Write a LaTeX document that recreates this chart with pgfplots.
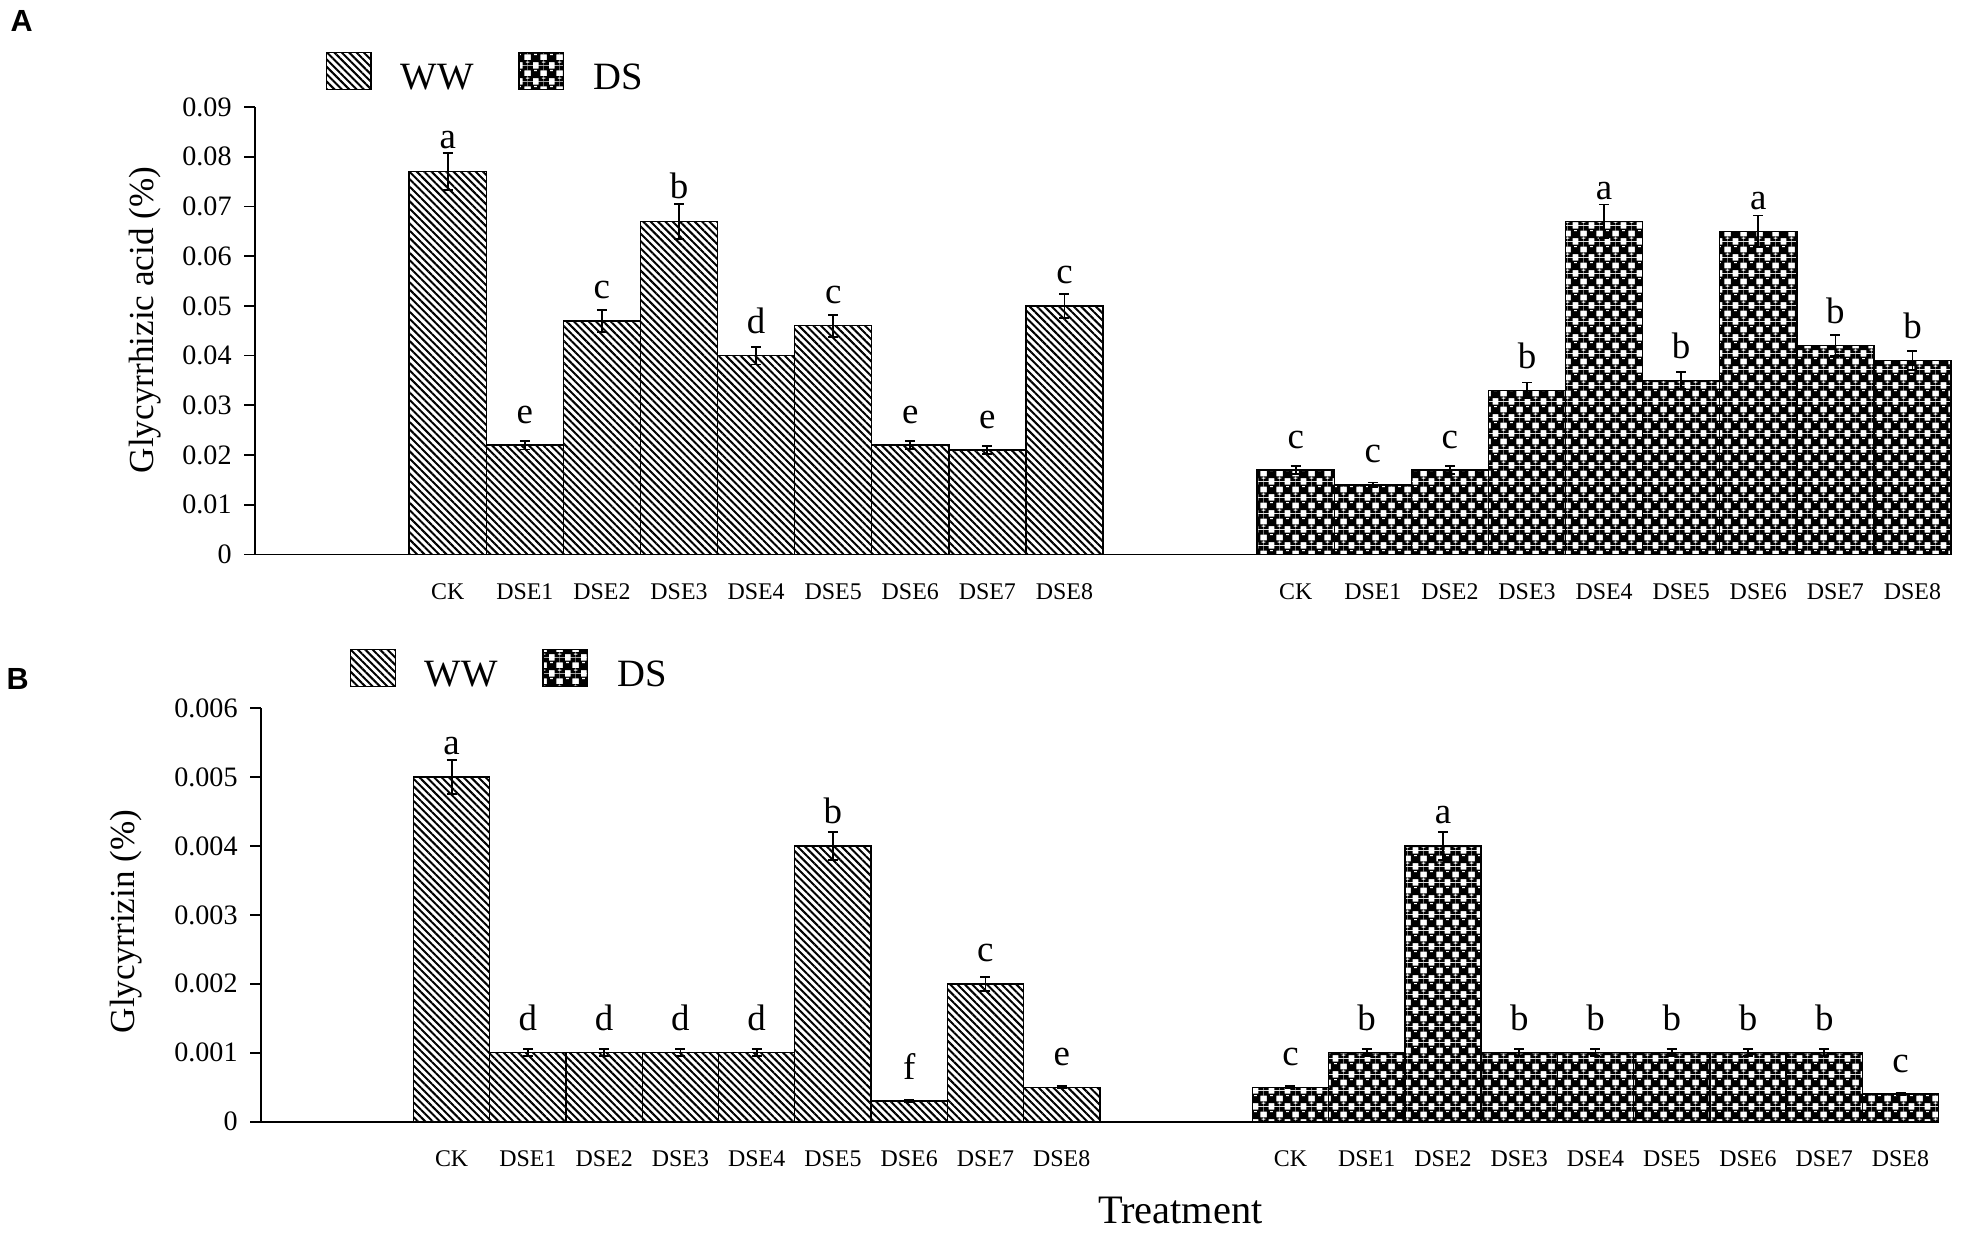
\documentclass[border=0pt]{standalone}
\usepackage{fontspec}
\setmainfont{Liberation Serif}
\newfontfamily\panelfont{Liberation Sans}
\usepackage{pgfplots}
\pgfplotsset{compat=1.18}
\usepackage{pgfplotstable}
\usetikzlibrary{patterns,patterns.meta}

\pgfdeclarepatterninherentlycolored{dscheck}{\pgfpointorigin}{\pgfqpoint{1.6mm}{1.6mm}}{\pgfqpoint{1.6mm}{1.6mm}}{%
  \pgfsetfillcolor{white}%
  \pgfpathrectangle{\pgfpointorigin}{\pgfqpoint{1.6mm}{1.6mm}}%
  \pgfusepath{fill}%
  \pgfsetfillcolor{black}%
  \pgfpathrectangle{\pgfqpoint{0.3mm}{0.3mm}}{\pgfqpoint{1.0mm}{1.0mm}}%
  \pgfpathrectangle{\pgfqpoint{0mm}{0mm}}{\pgfqpoint{0.5mm}{0.5mm}}%
  \pgfpathrectangle{\pgfqpoint{1.1mm}{0mm}}{\pgfqpoint{0.5mm}{0.5mm}}%
  \pgfpathrectangle{\pgfqpoint{0mm}{1.1mm}}{\pgfqpoint{0.5mm}{0.5mm}}%
  \pgfpathrectangle{\pgfqpoint{1.1mm}{1.1mm}}{\pgfqpoint{0.5mm}{0.5mm}}%
  \pgfusepath{fill}%
  \pgfsetfillcolor{white}%
  \pgfpathrectangle{\pgfqpoint{0.64mm}{1.04mm}}{\pgfqpoint{0.30mm}{0.12mm}}%
  \pgfpathrectangle{\pgfqpoint{-0.16mm}{0.24mm}}{\pgfqpoint{0.30mm}{0.12mm}}%
  \pgfpathrectangle{\pgfqpoint{1.44mm}{0.24mm}}{\pgfqpoint{0.30mm}{0.12mm}}%
  \pgfusepath{fill}%
}

\pgfplotstableread{
x y e l
0 0.077 0.0037 a
1 0.022 0.0009 e
2 0.047 0.0022 c
3 0.067 0.0035 b
4 0.040 0.0018 d
5 0.046 0.0022 c
6 0.022 0.0008 e
7 0.021 0.0008 e
8 0.050 0.0024 c
}\AWW
\pgfplotstableread{
x y e l
11 0.017 0.0008 c
12 0.014 0.0005 c
13 0.017 0.0008 c
14 0.033 0.0016 b
15 0.067 0.0034 a
16 0.035 0.0017 b
17 0.065 0.0032 a
18 0.042 0.0021 b
19 0.039 0.0019 b
}\ADS
\pgfplotstableread{
x y e l
0 0.0050 0.00025 a
1 0.0010 0.00005 d
2 0.0010 0.00005 d
3 0.0010 0.00005 d
4 0.0010 0.00005 d
5 0.0040 0.00020 b
6 0.0003 0.00001 f
7 0.0020 0.00010 c
8 0.0005 0.00002 e
}\BWW
\pgfplotstableread{
x y e l
11 0.0005 0.00002 c
12 0.0010 0.00005 b
13 0.0040 0.00020 a
14 0.0010 0.00005 b
15 0.0010 0.00005 b
16 0.0010 0.00005 b
17 0.0010 0.00005 b
18 0.0010 0.00005 b
19 0.0004 0.00002 c
}\BDS

\pgfplotsset{
  chartstyle/.style={
    scale only axis, xmin=-2.5, xmax=19.5, ymin=0,
    axis x line*=bottom, axis y line*=left,
    axis line style={line width=0.55pt, black},
    tick align=outside, major tick length=1.1mm,
    tick style={line width=0.5pt, black},
    xtick={0,1,2,3,4,5,6,7,8,11,12,13,14,15,16,17,18,19},
    xticklabels={CK,DSE1,DSE2,DSE3,DSE4,DSE5,DSE6,DSE7,DSE8,CK,DSE1,DSE2,DSE3,DSE4,DSE5,DSE6,DSE7,DSE8},
    xtick style={draw=none},
    extra x ticks={9.6}, extra x tick labels={},
    extra x tick style={major tick length=2.2mm, tick align=inside, tick style={draw=black, line width=0.45pt}},
    scaled y ticks=false,
    /pgf/number format/assume math mode=true,
    yticklabel style={font=\fontsize{8}{9}\selectfont},
    xticklabel style={font=\fontsize{6.8}{8}\selectfont, inner sep=0pt, anchor=north, yshift=-1.7mm},
    clip=false,
    legend columns=2,
    legend style={draw=none, fill=none, inner sep=0pt, outer sep=0pt,
      font=\fontsize{11}{13}\selectfont, column sep=0pt,
      cells={anchor=base west}, nodes={inner sep=0pt, text depth=0pt, anchor=base west}},
  },
  errsty/.style={error bars/.cd, y dir=both, y explicit,
    error bar style={line width=0.5pt, black},
    error mark options={rotate=90, mark size=0.5mm, line width=0.5pt, black}},
  wwbar/.style={ybar, bar width=1, bar shift=0pt, draw=black, line width=0.4pt,
    pattern={Lines[angle=-45,distance=0.52mm,line width=0.2mm]},
    legend image code/.code={\draw[draw=black, line width=0.4pt, pattern={Lines[angle=-45,distance=0.52mm,line width=0.2mm]}] (0mm,0mm) rectangle (4.45mm,3.7mm); \path (7.35mm,0mm);},
    errsty},
  dsbar/.style={ybar, bar width=1, bar shift=0pt, draw=black, line width=0.4pt,
    pattern=dscheck,
    legend image code/.code={\path (-4.45mm,0mm); \draw[draw=black, line width=0.4pt, pattern=dscheck] (0mm,0mm) rectangle (4.45mm,3.7mm); \path (7.35mm,0mm);},
    errsty},
  lettersty/.style={forget plot, draw=none, mark=none, nodes near coords,
    point meta=explicit symbolic,
    nodes near coords style={anchor=south, inner sep=0pt, font=\fontsize{10.5}{12}\selectfont, text=black}},
}

\begin{document}
\begin{tikzpicture}
\useasboundingbox (0,0) rectangle (196.1mm,123.3mm);
\node[anchor=base west, inner sep=0pt, font=\panelfont\bfseries\fontsize{8.7}{10}\selectfont] at (1.0mm,120.1mm) {A};
\node[anchor=base west, inner sep=0pt, font=\panelfont\bfseries\fontsize{8.7}{10}\selectfont] at (0.6mm,54.3mm) {B};

\begin{axis}[chartstyle,
  at={(25.5mm,67.85mm)}, anchor=south west,
  width=169.6mm, height=44.75mm, ymax=0.09,
  ytick={0,0.01,0.02,0.03,0.04,0.05,0.06,0.07,0.08,0.09},
  yticklabels={0,0.01,0.02,0.03,0.04,0.05,0.06,0.07,0.08,0.09},
  ylabel={Glycyrrhizic acid (\%)},
  ylabel style={at={(axis description cs:-0.0550,0.524)}, anchor=south, inner sep=0pt, font=\fontsize{10}{12}\selectfont},
  legend style={at={(axis description cs:0.04186,1.038)}, anchor=south west},
]
\addplot[wwbar] table[x=x, y=y, y error=e] {\AWW};
\addlegendentry{WW}
\addplot[dsbar] table[x=x, y=y, y error=e] {\ADS};
\addlegendentry{DS}
\addplot[lettersty] table[x=x, y expr={max(\thisrow{y}+\thisrow{e}+0.0008,\thisrow{y}+0.0042)}, meta=l] {\AWW};
\addplot[lettersty] table[x=x, y expr={max(\thisrow{y}+\thisrow{e}+0.0008,\thisrow{y}+0.0042)}, meta=l] {\ADS};
\end{axis}

\begin{axis}[chartstyle,
  at={(26.1mm,11.13mm)}, anchor=south west,
  width=167.76mm, height=41.37mm, ymax=0.006,
  ytick={0,0.001,0.002,0.003,0.004,0.005,0.006},
  yticklabels={0,0.001,0.002,0.003,0.004,0.005,0.006},
  ylabel={Glycyrrizin (\%)},
  ylabel style={at={(axis description cs:-0.0703,0.484)}, anchor=south, inner sep=0pt, font=\fontsize{10}{12}\selectfont},
  xlabel={Treatment},
  xlabel style={at={(axis description cs:0.548,-0.2449)}, anchor=base, inner sep=0pt, font=\fontsize{11.5}{13}\selectfont},
  legend style={at={(axis description cs:0.05305,1.0508)}, anchor=south west},
]
\addplot[wwbar] table[x=x, y=y, y error=e] {\BWW};
\addlegendentry{WW}
\addplot[dsbar] table[x=x, y=y, y error=e] {\BDS};
\addlegendentry{DS}
\addplot[lettersty] table[x=x, y expr={max(\thisrow{y}+\thisrow{e}+0.00006,\thisrow{y}+0.000305)}, meta=l] {\BWW};
\addplot[lettersty] table[x=x, y expr={max(\thisrow{y}+\thisrow{e}+0.00006,\thisrow{y}+0.000305)}, meta=l] {\BDS};
\end{axis}
\end{tikzpicture}
\end{document}
